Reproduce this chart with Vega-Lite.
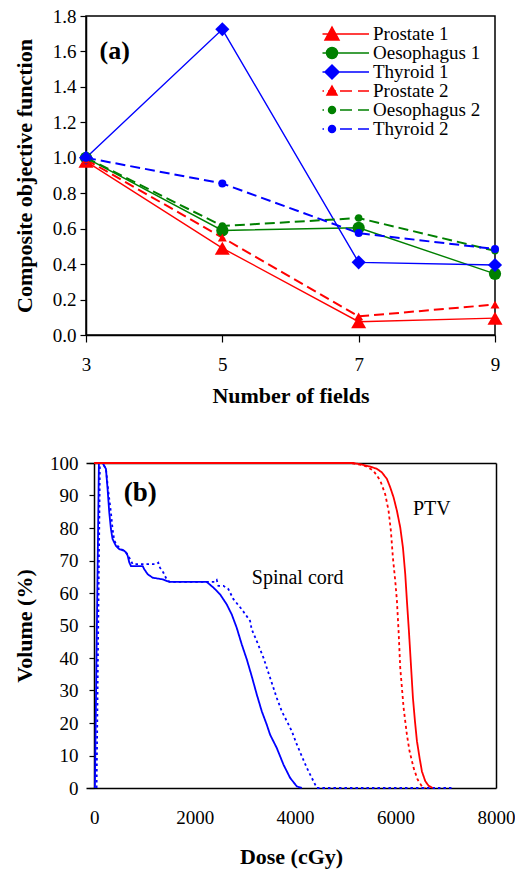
{
  "$schema": "https://vega.github.io/schema/vega-lite/v6.json",
  "background": "white",
  "padding": {"left": 12, "top": 6, "right": 0, "bottom": 2},
  "config": {
    "font": "Liberation Serif",
    "view": {"stroke": "#000", "strokeWidth": 1.5},
    "axis": {"grid": false, "domainColor": "#000", "domainWidth": 1.5, "tickColor": "#000", "tickWidth": 1.2, "labelColor": "#000", "titleColor": "#000", "labelFont": "Liberation Serif", "titleFont": "Liberation Serif", "labelFontSize": 19, "titleFontSize": 22, "titleFontWeight": "bold", "labelOverlap": false, "labelBound": false, "labelFlush": false}
  },
  "columns": 1,
  "align": "all",
  "spacing": 34,
  "resolve": {"scale": {"color": "independent", "strokeDash": "independent", "x": "independent", "y": "independent"}},
  "concat": [
    {
      "width": 409,
      "height": 319,
      "data": {"values": [
        {"series": "Prostate 1", "fields": 3, "value": 0.98},
        {"series": "Prostate 1", "fields": 5, "value": 0.49},
        {"series": "Prostate 1", "fields": 7, "value": 0.075},
        {"series": "Prostate 1", "fields": 9, "value": 0.095},
        {"series": "Oesophagus 1", "fields": 3, "value": 1.0},
        {"series": "Oesophagus 1", "fields": 5, "value": 0.59},
        {"series": "Oesophagus 1", "fields": 7, "value": 0.605},
        {"series": "Oesophagus 1", "fields": 9, "value": 0.345},
        {"series": "Thyroid 1", "fields": 3, "value": 1.0},
        {"series": "Thyroid 1", "fields": 5, "value": 1.725},
        {"series": "Thyroid 1", "fields": 7, "value": 0.41},
        {"series": "Thyroid 1", "fields": 9, "value": 0.395},
        {"series": "Prostate 2", "fields": 3, "value": 0.99},
        {"series": "Prostate 2", "fields": 5, "value": 0.55},
        {"series": "Prostate 2", "fields": 7, "value": 0.105},
        {"series": "Prostate 2", "fields": 9, "value": 0.172},
        {"series": "Oesophagus 2", "fields": 3, "value": 1.0},
        {"series": "Oesophagus 2", "fields": 5, "value": 0.615},
        {"series": "Oesophagus 2", "fields": 7, "value": 0.66},
        {"series": "Oesophagus 2", "fields": 9, "value": 0.475},
        {"series": "Thyroid 2", "fields": 3, "value": 1.0},
        {"series": "Thyroid 2", "fields": 5, "value": 0.855},
        {"series": "Thyroid 2", "fields": 7, "value": 0.575},
        {"series": "Thyroid 2", "fields": 9, "value": 0.485}
      ]},
      "encoding": {
        "x": {"field": "fields", "type": "quantitative", "scale": {"domain": [3, 9], "nice": false}, "axis": {"title": "Number of fields", "values": [3, 5, 7, 9], "format": "d", "tickSize": 7, "labelPadding": 13, "titlePadding": 11}},
        "y": {"field": "value", "type": "quantitative", "scale": {"domain": [0, 1.8], "nice": false}, "axis": {"title": "Composite objective function", "values": [0, 0.2, 0.4, 0.6, 0.8, 1.0, 1.2, 1.4, 1.6, 1.8], "format": ".1f", "tickSize": 6, "labelPadding": 4, "titlePadding": 16}},
        "color": {"field": "series", "type": "nominal", "legend": null,
          "scale": {"domain": ["Prostate 1", "Oesophagus 1", "Thyroid 1", "Prostate 2", "Oesophagus 2", "Thyroid 2"], "range": ["#ff0000", "#008000", "#0000ff", "#ff0000", "#008000", "#0000ff"]}}
      },
      "layer": [
        {
          "transform": [{"filter": "indexof(datum.series, '1') >= 0"}],
          "mark": {"type": "line", "strokeWidth": 1.4}
        },
        {
          "transform": [{"filter": "indexof(datum.series, '2') >= 0"}],
          "mark": {"type": "line", "strokeWidth": 2, "strokeDash": [10, 5]}
        },
        {
          "transform": [{"filter": "datum.series === 'Prostate 1'"}],
          "mark": {"type": "point", "filled": true, "opacity": 1, "shape": "triangle-up", "size": 225}
        },
        {
          "transform": [{"filter": "datum.series === 'Oesophagus 1'"}],
          "mark": {"type": "point", "filled": true, "opacity": 1, "shape": "circle", "size": 150}
        },
        {
          "transform": [{"filter": "datum.series === 'Thyroid 1'"}],
          "mark": {"type": "point", "filled": true, "opacity": 1, "shape": "diamond", "size": 200}
        },
        {
          "transform": [{"filter": "datum.series === 'Prostate 2'"}],
          "mark": {"type": "point", "filled": true, "opacity": 1, "shape": "triangle-up", "size": 80}
        },
        {
          "transform": [{"filter": "datum.series === 'Oesophagus 2'"}],
          "mark": {"type": "point", "filled": true, "opacity": 1, "shape": "circle", "size": 55}
        },
        {
          "transform": [{"filter": "datum.series === 'Thyroid 2'"}],
          "mark": {"type": "point", "filled": true, "opacity": 1, "shape": "circle", "size": 64}
        },
        {
          "transform": [{"filter": "false"}],
          "mark": {"type": "point", "filled": true, "opacity": 1, "size": 4, "strokeWidth": 1.5},
          "encoding": {
            "color": {"value": "#000"},
            "fill": {"field": "series", "type": "nominal",
              "scale": {"domain": ["Prostate 1", "Oesophagus 1", "Thyroid 1", "Prostate 2", "Oesophagus 2", "Thyroid 2"], "range": ["#ff0000", "#008000", "#0000ff", "#ff0000", "#008000", "#0000ff"]},
              "legend": {"title": null, "orient": "none", "legendX": 236.5, "legendY": 9, "padding": 0, "symbolSize": 4, "symbolStrokeWidth": 1.5, "symbolOpacity": 1, "labelFont": "Liberation Serif", "labelFontSize": 19, "labelColor": "#000", "labelOffset": 31.5, "rowPadding": 0, "clipHeight": 18}},
            "stroke": {"field": "series", "type": "nominal",
              "scale": {"domain": ["Prostate 1", "Oesophagus 1", "Thyroid 1", "Prostate 2", "Oesophagus 2", "Thyroid 2"], "range": ["#ff0000", "#008000", "#0000ff", "#ff0000", "#008000", "#0000ff"]},
              "legend": {"title": null, "orient": "none", "legendX": 236.5, "legendY": 9, "padding": 0, "symbolSize": 4, "symbolStrokeWidth": 1.5, "symbolOpacity": 1, "labelFont": "Liberation Serif", "labelFontSize": 19, "labelColor": "#000", "labelOffset": 31.5, "rowPadding": 0, "clipHeight": 18}},
            "shape": {"field": "series", "type": "nominal",
              "scale": {"domain": ["Prostate 1", "Oesophagus 1", "Thyroid 1", "Prostate 2", "Oesophagus 2", "Thyroid 2"], "range": [
                "M-37,0H37M0,-7L7,6L-7,6Z",
                "M-37,0H37M-5.5,0A5.5,5.5 0 1,0 5.5,0A5.5,5.5 0 1,0 -5.5,0Z",
                "M-37,0H37M-7,0L0,-7L7,0L0,7Z",
                "M-37,0H-26M-20,0H-8M-4,0H4M8,0H20M26,0H37M0,-5L5,4L-5,4Z",
                "M-37,0H-26M-20,0H-8M-4,0H4M8,0H20M26,0H37M-3.5,0A3.5,3.5 0 1,0 3.5,0A3.5,3.5 0 1,0 -3.5,0Z",
                "M-37,0H-26M-20,0H-8M-4,0H4M8,0H20M26,0H37M-3.5,0A3.5,3.5 0 1,0 3.5,0A3.5,3.5 0 1,0 -3.5,0Z"
              ]},
              "legend": {"title": null, "orient": "none", "legendX": 236.5, "legendY": 9, "padding": 0, "symbolSize": 4, "symbolStrokeWidth": 1.5, "symbolOpacity": 1, "labelFont": "Liberation Serif", "labelFontSize": 19, "labelColor": "#000", "labelOffset": 31.5, "rowPadding": 0, "clipHeight": 18}}
          }
        },
        {
          "data": {"values": [{"lab": "(a)", "fields": 3.42, "value": 1.6}]},
          "mark": {"type": "text", "font": "Liberation Serif", "fontSize": 26, "fontWeight": "bold", "color": "#000", "baseline": "middle", "align": "center"},
          "encoding": {
            "color": {"value": "#000"},
            "text": {"field": "lab"}
          }
        }
      ]
    },
    {
      "width": 410,
      "height": 325,
      "view": {"stroke": null},
      "resolve": {"axis": {"x": "independent", "y": "independent"}},
      "layer": [
        {
          "data": {"values": [
            {"curve": "sc1", "dose": 13, "vol": 0},
            {"curve": "sc1", "dose": 93, "vol": 100},
            {"curve": "sc1", "dose": 166, "vol": 100},
            {"curve": "sc1", "dose": 233, "vol": 98.2},
            {"curve": "sc1", "dose": 266, "vol": 92.0},
            {"curve": "sc1", "dose": 299, "vol": 84.8},
            {"curve": "sc1", "dose": 332, "vol": 79.7},
            {"curve": "sc1", "dose": 365, "vol": 76.6},
            {"curve": "sc1", "dose": 432, "vol": 74.5},
            {"curve": "sc1", "dose": 498, "vol": 73.5},
            {"curve": "sc1", "dose": 598, "vol": 73.0},
            {"curve": "sc1", "dose": 631, "vol": 72.5},
            {"curve": "sc1", "dose": 665, "vol": 71.5},
            {"curve": "sc1", "dose": 698, "vol": 69.4},
            {"curve": "sc1", "dose": 731, "vol": 68.3},
            {"curve": "sc1", "dose": 964, "vol": 68.3},
            {"curve": "sc1", "dose": 997, "vol": 67.3},
            {"curve": "sc1", "dose": 1063, "vol": 65.8},
            {"curve": "sc1", "dose": 1163, "vol": 64.7},
            {"curve": "sc1", "dose": 1362, "vol": 64.2},
            {"curve": "sc1", "dose": 1495, "vol": 63.4},
            {"curve": "sc1", "dose": 2239, "vol": 63.4},
            {"curve": "sc1", "dose": 2372, "vol": 61.7},
            {"curve": "sc1", "dose": 2505, "vol": 59.6},
            {"curve": "sc1", "dose": 2638, "vol": 56.5},
            {"curve": "sc1", "dose": 2738, "vol": 53.4},
            {"curve": "sc1", "dose": 2837, "vol": 49.3},
            {"curve": "sc1", "dose": 2937, "vol": 44.2},
            {"curve": "sc1", "dose": 3037, "vol": 39.6},
            {"curve": "sc1", "dose": 3136, "vol": 34.4},
            {"curve": "sc1", "dose": 3236, "vol": 28.8},
            {"curve": "sc1", "dose": 3336, "vol": 23.6},
            {"curve": "sc1", "dose": 3435, "vol": 19.5},
            {"curve": "sc1", "dose": 3502, "vol": 16.4},
            {"curve": "sc1", "dose": 3635, "vol": 12.3},
            {"curve": "sc1", "dose": 3768, "vol": 7.2},
            {"curve": "sc1", "dose": 3901, "vol": 3.1},
            {"curve": "sc1", "dose": 4034, "vol": 0.5},
            {"curve": "sc1", "dose": 4133, "vol": 0},
            {"curve": "sc2", "dose": 47, "vol": 0},
            {"curve": "sc2", "dose": 113, "vol": 100},
            {"curve": "sc2", "dose": 166, "vol": 100},
            {"curve": "sc2", "dose": 233, "vol": 98.2},
            {"curve": "sc2", "dose": 279, "vol": 91.5},
            {"curve": "sc2", "dose": 332, "vol": 84.8},
            {"curve": "sc2", "dose": 365, "vol": 79.7},
            {"curve": "sc2", "dose": 399, "vol": 76.1},
            {"curve": "sc2", "dose": 465, "vol": 74.5},
            {"curve": "sc2", "dose": 532, "vol": 73.5},
            {"curve": "sc2", "dose": 598, "vol": 73.0},
            {"curve": "sc2", "dose": 665, "vol": 71.9},
            {"curve": "sc2", "dose": 731, "vol": 69.9},
            {"curve": "sc2", "dose": 764, "vol": 68.9},
            {"curve": "sc2", "dose": 1243, "vol": 68.9},
            {"curve": "sc2", "dose": 1276, "vol": 69.3},
            {"curve": "sc2", "dose": 1309, "vol": 67.8},
            {"curve": "sc2", "dose": 1376, "vol": 66.3},
            {"curve": "sc2", "dose": 1442, "vol": 64.2},
            {"curve": "sc2", "dose": 1508, "vol": 63.4},
            {"curve": "sc2", "dose": 2406, "vol": 63.4},
            {"curve": "sc2", "dose": 2439, "vol": 64.0},
            {"curve": "sc2", "dose": 2472, "vol": 62.2},
            {"curve": "sc2", "dose": 2572, "vol": 62.2},
            {"curve": "sc2", "dose": 2671, "vol": 61.2},
            {"curve": "sc2", "dose": 2771, "vol": 58.1},
            {"curve": "sc2", "dose": 2937, "vol": 55.0},
            {"curve": "sc2", "dose": 3103, "vol": 51.4},
            {"curve": "sc2", "dose": 3136, "vol": 48.8},
            {"curve": "sc2", "dose": 3236, "vol": 45.2},
            {"curve": "sc2", "dose": 3369, "vol": 40.1},
            {"curve": "sc2", "dose": 3502, "vol": 33.9},
            {"curve": "sc2", "dose": 3635, "vol": 27.7},
            {"curve": "sc2", "dose": 3735, "vol": 23.6},
            {"curve": "sc2", "dose": 3834, "vol": 20.6},
            {"curve": "sc2", "dose": 3934, "vol": 17.5},
            {"curve": "sc2", "dose": 4034, "vol": 13.4},
            {"curve": "sc2", "dose": 4133, "vol": 9.8},
            {"curve": "sc2", "dose": 4233, "vol": 6.2},
            {"curve": "sc2", "dose": 4333, "vol": 3.1},
            {"curve": "sc2", "dose": 4432, "vol": 0},
            {"curve": "sc2", "dose": 7157, "vol": 0},
            {"curve": "ptv1", "dose": 0, "vol": 100},
            {"curve": "ptv1", "dose": 5163, "vol": 100},
            {"curve": "ptv1", "dose": 5363, "vol": 99.4},
            {"curve": "ptv1", "dose": 5495, "vol": 98.9},
            {"curve": "ptv1", "dose": 5628, "vol": 98.2},
            {"curve": "ptv1", "dose": 5728, "vol": 97.1},
            {"curve": "ptv1", "dose": 5828, "vol": 95.1},
            {"curve": "ptv1", "dose": 5894, "vol": 92.5},
            {"curve": "ptv1", "dose": 5961, "vol": 89.4},
            {"curve": "ptv1", "dose": 6027, "vol": 85.3},
            {"curve": "ptv1", "dose": 6093, "vol": 80.2},
            {"curve": "ptv1", "dose": 6147, "vol": 74.0},
            {"curve": "ptv1", "dose": 6193, "vol": 65.8},
            {"curve": "ptv1", "dose": 6226, "vol": 57.6},
            {"curve": "ptv1", "dose": 6266, "vol": 48.3},
            {"curve": "ptv1", "dose": 6306, "vol": 38.0},
            {"curve": "ptv1", "dose": 6346, "vol": 27.7},
            {"curve": "ptv1", "dose": 6386, "vol": 20.6},
            {"curve": "ptv1", "dose": 6426, "vol": 14.4},
            {"curve": "ptv1", "dose": 6479, "vol": 9.2},
            {"curve": "ptv1", "dose": 6525, "vol": 5.1},
            {"curve": "ptv1", "dose": 6592, "vol": 2.1},
            {"curve": "ptv1", "dose": 6658, "vol": 0.7},
            {"curve": "ptv1", "dose": 6738, "vol": 0},
            {"curve": "ptv2", "dose": 0, "vol": 100},
            {"curve": "ptv2", "dose": 5097, "vol": 100},
            {"curve": "ptv2", "dose": 5296, "vol": 99.5},
            {"curve": "ptv2", "dose": 5429, "vol": 98.9},
            {"curve": "ptv2", "dose": 5562, "vol": 97.6},
            {"curve": "ptv2", "dose": 5695, "vol": 94.6},
            {"curve": "ptv2", "dose": 5794, "vol": 90.4},
            {"curve": "ptv2", "dose": 5861, "vol": 85.3},
            {"curve": "ptv2", "dose": 5907, "vol": 79.1},
            {"curve": "ptv2", "dose": 5947, "vol": 70.9},
            {"curve": "ptv2", "dose": 5994, "vol": 63.7},
            {"curve": "ptv2", "dose": 6027, "vol": 57.6},
            {"curve": "ptv2", "dose": 6060, "vol": 48.3},
            {"curve": "ptv2", "dose": 6093, "vol": 37.0},
            {"curve": "ptv2", "dose": 6160, "vol": 24.7},
            {"curve": "ptv2", "dose": 6226, "vol": 16.4},
            {"curve": "ptv2", "dose": 6279, "vol": 11.3},
            {"curve": "ptv2", "dose": 6359, "vol": 6.2},
            {"curve": "ptv2", "dose": 6439, "vol": 2.6},
            {"curve": "ptv2", "dose": 6525, "vol": 0.5},
            {"curve": "ptv2", "dose": 6592, "vol": 0}
          ]},
          "mark": {"type": "line", "strokeWidth": 1.8},
          "encoding": {
            "x": {"field": "dose", "type": "quantitative", "scale": {"domain": [-164, 8000], "nice": false, "zero": false}, "axis": {"title": "Dose (cGy)", "values": [0, 2000, 4000, 6000, 8000], "format": "d", "ticks": false, "labelPadding": 20, "titlePadding": 19, "labelOverlap": false}},
            "y": {"field": "vol", "type": "quantitative", "scale": {"domain": [0, 100], "nice": false}, "axis": {"title": "Volume (%)", "values": [0, 10, 20, 30, 40, 50, 60, 70, 80, 90, 100], "format": "d", "tickSize": 5, "labelPadding": 11, "titlePadding": 13, "offset": -8, "labelOverlap": false}},
            "color": {"field": "curve", "type": "nominal", "scale": {"domain": ["sc1", "sc2", "ptv1", "ptv2"], "range": ["#0000ff", "#0000ff", "#ff0000", "#ff0000"]}, "legend": null},
            "strokeDash": {"field": "curve", "type": "nominal", "scale": {"domain": ["sc1", "sc2", "ptv1", "ptv2"], "range": [[1, 0], [2.5, 3], [1, 0], [3, 3]]}, "legend": null}
          }
        },
        {
          "data": {"values": [{"lab": "(b)", "dose": 918, "vol": 90.8}]},
          "mark": {"type": "text", "font": "Liberation Serif", "fontSize": 27, "fontWeight": "bold", "color": "#000", "baseline": "middle", "align": "center"},
          "encoding": {
            "x": {"field": "dose", "type": "quantitative", "axis": {"orient": "top", "labels": false, "ticks": false, "title": null, "domain": true}},
            "y": {"field": "vol", "type": "quantitative", "axis": {"orient": "right", "labels": false, "ticks": false, "title": null, "domain": true}},
            "text": {"field": "lab"}
          }
        },
        {
          "data": {"values": [{"lab": "PTV", "dose": 6723, "vol": 85.8}, {"lab": "Spinal cord", "dose": 4050, "vol": 64.6}]},
          "mark": {"type": "text", "font": "Liberation Serif", "fontSize": 20, "color": "#000", "baseline": "middle", "align": "center"},
          "encoding": {
            "x": {"field": "dose", "type": "quantitative", "axis": null},
            "y": {"field": "vol", "type": "quantitative", "axis": null},
            "text": {"field": "lab"}
          }
        }
      ]
    }
  ]
}
